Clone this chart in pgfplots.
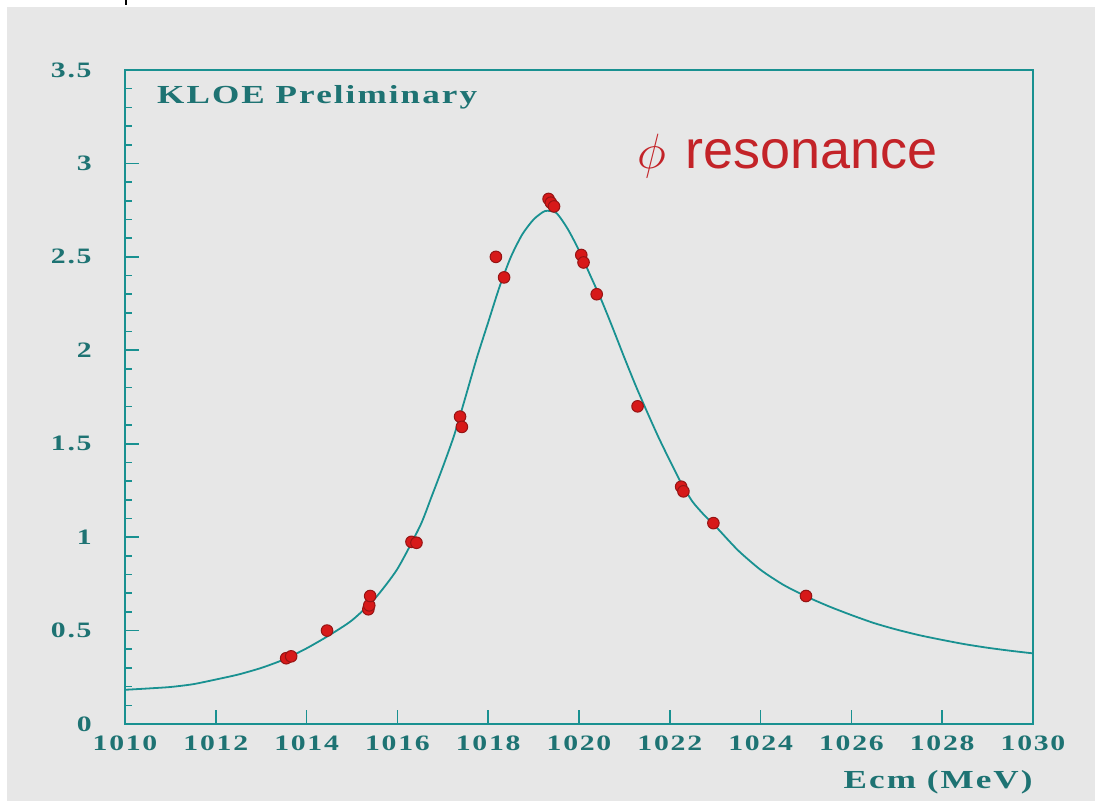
\documentclass[border=0pt]{standalone}
\usepackage{pgfplots}
\pgfplotsset{compat=1.18}
\usepackage{pgfplotstable}
\usepackage{fontspec}
\setmainfont{Liberation Serif}
\newfontfamily\rootfont{Liberation Serif}[FakeStretch=1.35,LetterSpace=8]
\newfontfamily\helv{Liberation Sans}

\definecolor{bggray}{RGB}{231,231,231}
\definecolor{rootteal}{RGB}{25,145,145}
\definecolor{labteal}{RGB}{30,115,115}
\definecolor{ptred}{RGB}{215,25,25}
\definecolor{ptedge}{RGB}{150,20,20}
\definecolor{txtred}{RGB}{195,35,40}

% measured cross section points (several runs per energy)
\pgfplotstableread{
E       sigma
1013.55 0.352
1013.66 0.362
1014.45 0.500
1015.36 0.614
1015.38 0.635
1015.40 0.685
1016.31 0.975
1016.42 0.970
1017.38 1.645
1017.42 1.590
1018.17 2.500
1018.35 2.390
1019.33 2.810
1019.38 2.790
1019.45 2.770
1020.05 2.510
1020.10 2.470
1020.39 2.300
1021.29 1.700
1022.25 1.270
1022.30 1.245
1022.96 1.075
1025.00 0.685
}\datatable

% fitted line shape
\pgfplotstableread{
E       sigma
1010.0  0.183
1010.5  0.190
1011.0  0.198
1011.5  0.213
1012.0  0.238
1012.5  0.265
1013.0  0.300
1013.5  0.345
1014.0  0.405
1014.5  0.475
1015.0  0.555
1015.5  0.670
1016.0  0.830
1016.5  1.060
1016.75 1.215
1017.0  1.375
1017.25 1.545
1017.5  1.750
1017.75 1.960
1018.0  2.150
1018.25 2.340
1018.5  2.500
1018.75 2.620
1019.0  2.700
1019.25 2.745
1019.5  2.735
1019.75 2.650
1020.0  2.535
1020.25 2.400
1020.5  2.265
1020.75 2.115
1021.0  1.960
1021.25 1.810
1021.5  1.670
1021.75 1.535
1022.0  1.410
1022.25 1.290
1022.5  1.190
1022.75 1.120
1023.0  1.060
1023.5  0.930
1024.0  0.825
1024.5  0.745
1025.0  0.683
1025.5  0.630
1026.0  0.583
1026.5  0.540
1027.0  0.505
1027.5  0.475
1028.0  0.450
1028.5  0.427
1029.0  0.408
1029.5  0.392
1030.0  0.378
}\fittable

\begin{document}
\begin{tikzpicture}
% canvas
\fill[bggray] (0,0) rectangle (547.5bp,400.5bp);
\fill[white] (0,397bp) rectangle (547.5bp,400.5bp);
\fill[white] (0,0) rectangle (3.5bp,400.5bp);
\draw[black, line width=0.8bp] (63bp,398bp) -- (63bp,400.5bp);

\begin{axis}[
  at={(62.5bp,38.5bp)}, anchor=south west,
  scale only axis, width=454bp, height=327bp,
  xmin=1010, xmax=1030, ymin=0, ymax=3.5,
  xtick={1010,1012,...,1030},
  xticklabels={1010,1012,1014,1016,1018,1020,1022,1024,1026,1028,1030},
  minor x tick num=3,
  ytick={0,0.5,1,1.5,2,2.5,3,3.5},
  yticklabels={0,0.5,1,1.5,2,2.5,3,3.5},
  minor y tick num=4,
  tick align=inside, xtick pos=bottom, ytick pos=left,
  major tick length=7bp, minor tick length=3.5bp,
  axis line style={draw=rootteal, line width=1bp},
  every tick/.style={rootteal, line width=0.8bp},
  ticklabel style={font=\rootfont\bfseries\fontsize{11bp}{13bp}\selectfont, text=labteal, inner sep=0pt},
  xticklabel style={anchor=north, yshift=-5.5bp},
  yticklabel style={anchor=east, xshift=-16.5bp},
  xlabel={Ecm (MeV)},
  xlabel style={at={(rel axis cs:1,0)}, anchor=east, yshift=-29bp, inner sep=0pt,
    font=\rootfont\bfseries\fontsize{13bp}{15bp}\selectfont, text=labteal},
  clip=false,
]
\addplot[rootteal, line width=0.9bp, smooth, tension=0.4] table[x=E, y=sigma] {\fittable};
\addplot[only marks, mark=*, mark size=2.9bp,
  mark options={fill=ptred, draw=ptedge, line width=0.5bp}] table[x=E, y=sigma] {\datatable};

\node[anchor=west, inner sep=0pt, text=labteal,
  font=\rootfont\bfseries\fontsize{13bp}{15bp}\selectfont]
  at (rel axis cs:0.035,0.959) {KLOE Preliminary};
\node[anchor=base west, inner sep=0pt, text=txtred,
  font=\helv\fontsize{27bp}{30bp}\selectfont]
  at (rel axis cs:0.564,0.850) {$\phi$\hspace{2bp} resonance};
\end{axis}
\pgfresetboundingbox
\path (0,0) rectangle (547.5bp,400.5bp);
\end{tikzpicture}
\end{document}
